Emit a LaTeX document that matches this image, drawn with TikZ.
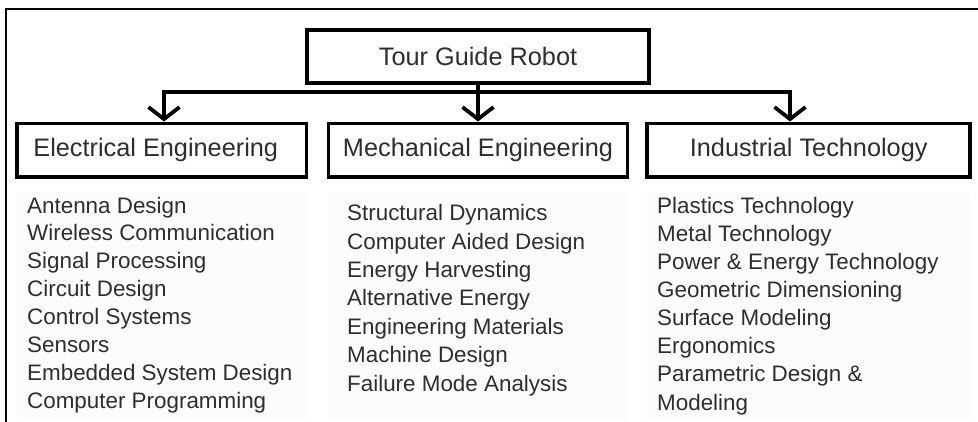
\documentclass[tikz,border=0pt]{standalone}
\usepackage{fontspec}
\setmainfont{Liberation Sans}
\usetikzlibrary{arrows.meta}
\begin{document}
\begin{tikzpicture}[x=1pt,y=-1pt,
  box/.style={draw=black, line width=3.8pt, inner sep=0pt, fill=white,
              text=black!82, font=\fontsize{25.3}{30}\selectfont},
  conn/.style={line width=3.8pt, draw=black},
  barb/.tip={Straight Barb[length=12pt,width=31pt]},
  item/.style={anchor=base west, inner sep=0pt, text=black!82,
               font=\fontsize{22.4}{28}\selectfont},
  panel/.style={fill=black!1.2, draw=none}]
\useasboundingbox (0,0) rectangle (978,421);
\fill[white] (0,0) rectangle (978,421);
% outer frame
\draw[line width=2.3pt] (6,9) rectangle (1000,450);
% faint backgrounds behind the topic lists
\fill[panel] (17,192) rectangle (306,421);
\fill[panel] (328,192) rectangle (627,421);
\fill[panel] (647,193) rectangle (970,421);
% boxes
\node[box, minimum width=341.7pt, minimum height=53pt] (root) at (478,56.5) {Tour Guide Robot};
\node[box, minimum width=289.5pt, minimum height=53.2pt] (ee) at (161.75,150) {\hspace*{-12pt}Electrical Engineering};
\node[box, minimum width=299pt, minimum height=53.2pt] (me) at (478,150) {Mechanical Engineering};
\node[box, minimum width=323.3pt, minimum height=53.2pt] (it) at (808.7,150) {Industrial Technology};
% connectors
\coordinate (jl) at (164,92);
\coordinate (jr) at (790,92);
\draw[conn, {barb}-{barb}] (jl |- ee.north) -- (jl) -- (jr) -- (jr |- it.north);
\draw[conn, -{barb}] (root.south) -- (me.north);
% topic lists
\foreach \t [count=\i from 0] in {Antenna Design, Wireless Communication, Signal Processing,
    Circuit Design, Control Systems, Sensors, Embedded System Design, Computer Programming}
  \node[item] (ee-\i) at (27,{213+27.9*\i}) {\t};
\foreach \t [count=\i from 0] in {Structural Dynamics, Computer Aided Design, Energy Harvesting,
    Alternative Energy, Engineering Materials, Machine Design, Failure Mode Analysis}
  \node[item] (me-\i) at (347,{220.7+28.4*\i}) {\t};
\foreach \t [count=\i from 0] in {Plastics Technology, Metal Technology, Power \& Energy Technology,
    Geometric Dimensioning, Surface Modeling, Ergonomics, Parametric Design \&, Modeling}
  \node[item] (it-\i) at (657,{213.3+28.1*\i}) {\t};
\end{tikzpicture}
\end{document}
